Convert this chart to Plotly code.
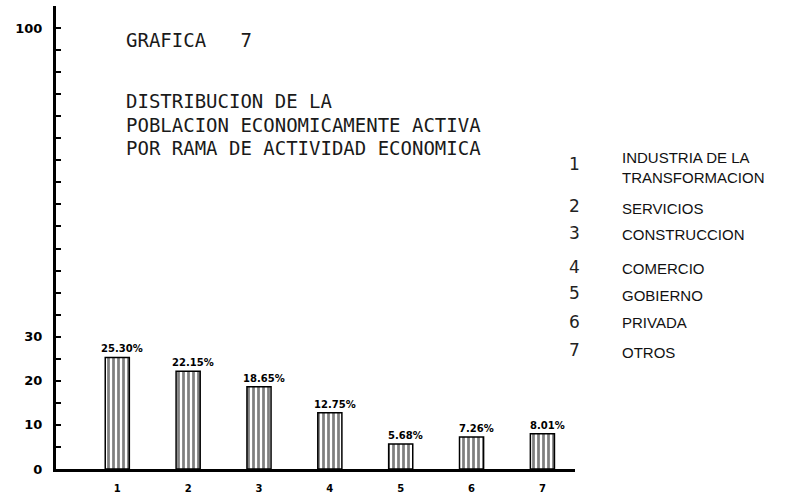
import plotly.graph_objects as go

# ---- data ----
categories = [1, 2, 3, 4, 5, 6, 7]
values = [25.30, 22.15, 18.65, 12.75, 5.68, 7.26, 8.01]
value_labels = [f"{v:.2f}%" for v in values]
legend_numbers = ["1", "2", "3", "4", "5", "6", "7"]
legend_names = ["INDUSTRIA DE LA<br>TRANSFORMACION", "SERVICIOS", "CONSTRUCCION",
                "COMERCIO", "GOBIERNO", "PRIVADA", "OTROS"]
y_ticks = list(range(0, 101, 5))
y_labels = {0: "0", 10: "10", 20: "20", 30: "30", 100: "100"}
y_ticktext = [y_labels.get(v, "") for v in y_ticks]
title_lines = ["GRAFICA   7", "DISTRIBUCION DE LA",
               "POBLACION ECONOMICAMENTE ACTIVA", "POR RAMA DE ACTIVIDAD ECONOMICA"]

W, H = 800, 495
L, R, T, B = 56, 225, 6, 26
PW, PH = W - L - R, H - T - B


def px(x):
    return (x - L) / PW


def py(y):
    return (H - B - y) / PH


fig = go.Figure()
fig.add_trace(go.Bar(
    x=categories, y=values, width=0.34,
    marker=dict(color="white",
                line=dict(color="black", width=1.5),
                pattern=dict(shape="|", fgcolor="black", bgcolor="white",
                             size=5, solidity=0.55)),
    showlegend=False,
))

fig.update_layout(
    width=W, height=H,
    margin=dict(l=L, r=R, t=T, b=B),
    paper_bgcolor="white", plot_bgcolor="white",
    xaxis=dict(range=[0.135, 7.46], tickvals=categories,
               ticktext=[str(c) for c in categories], automargin=False,
               showline=True, linecolor="black", linewidth=3, showgrid=False,
               zeroline=False, ticks="", ticklabelstandoff=8,
               tickfont=dict(family="DejaVu Sans", size=10, color="black", weight=700)),
    yaxis=dict(range=[0, 105], tickvals=y_ticks, ticktext=y_ticktext, automargin=False,
               showline=True, linecolor="black", linewidth=3, showgrid=False,
               zeroline=False, ticks="inside", ticklen=5, tickwidth=1.5,
               tickcolor="black", ticklabelstandoff=8,
               tickfont=dict(family="DejaVu Sans", size=13, color="black", weight=700)),
)

annotations = []
# value labels above bars
for c, v, lab in zip(categories, values, value_labels):
    annotations.append(dict(text=lab, x=c, y=v, xref="x", yref="y",
                            xanchor="center", yanchor="bottom", yshift=1, xshift=5,
                            showarrow=False,
                            font=dict(family="DejaVu Sans", size=10, color="black", weight=700)))
# title block
title_pos = [(124, 40), (124, 101), (124, 124.5), (124, 148)]
for txt, (x, y) in zip(title_lines, title_pos):
    annotations.append(dict(text=txt, x=px(x), y=py(y), xref="paper", yref="paper",
                            xanchor="left", yanchor="middle", showarrow=False,
                            font=dict(family="DejaVu Sans Mono", size=19, color="#1a1a1a")))
# legend block
num_y = [164, 206, 233, 267, 293, 322, 350]
name_y = [167, 208, 234, 268, 295, 323, 352]
for n, nm, ny, my in zip(legend_numbers, legend_names, num_y, name_y):
    annotations.append(dict(text=n, x=px(574), y=py(ny), xref="paper", yref="paper",
                            xanchor="center", yanchor="middle", showarrow=False,
                            font=dict(family="DejaVu Sans", size=17, color="#222")))
    annotations.append(dict(text=nm, x=px(620), y=py(my), xref="paper", yref="paper",
                            xanchor="left", yanchor="middle", showarrow=False, align="left",
                            font=dict(family="Liberation Sans", size=15, color="#111")))
fig.update_layout(annotations=annotations)

fig.write_html("out.html", config={"displayModeBar": False},
               post_script="document.body.style.margin='0px';document.body.style.overflow='hidden';")
